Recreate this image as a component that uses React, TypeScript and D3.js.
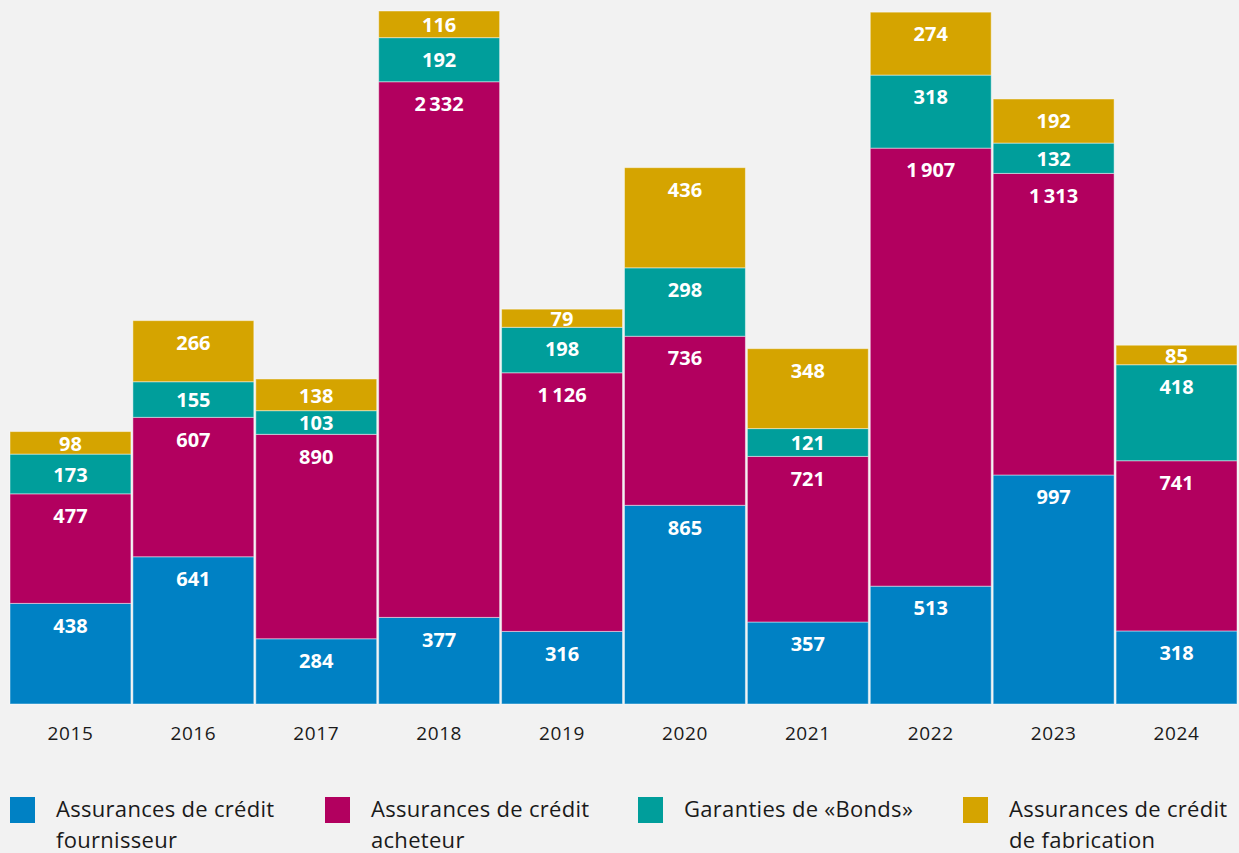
import * as d3 from 'd3';

const years = ['2015', '2016', '2017', '2018', '2019', '2020', '2021', '2022', '2023', '2024'];
const fournisseur = [438, 641, 284, 377, 316, 865, 357, 513, 997, 318];
const acheteur = [477, 607, 890, 2332, 1126, 736, 721, 1907, 1313, 741];
const bonds = [173, 155, 103, 192, 198, 298, 121, 318, 132, 418];
const fabrication = [98, 266, 138, 116, 79, 436, 348, 274, 192, 85];

const seriesNames = [
  ['Assurances de crédit', 'fournisseur'],
  ['Assurances de crédit', 'acheteur'],
  ['Garanties de «Bonds»'],
  ['Assurances de crédit', 'de fabrication'],
];
const colors = ['#0081c4', '#b2005f', '#009e9b', '#d5a400'];
const legendX = [10, 325, 638, 963];

const width = 1239;
const height = 853;
const font = '"Open Sans", "DejaVu Sans", sans-serif';

const fmt = (v: number) => (v >= 1000 ? `${Math.floor(v / 1000)}\u2009${String(v % 1000).padStart(3, '0')}` : String(v));

export default function App() {
  const rows = years.map((year, i) => ({
    year,
    s0: fournisseur[i],
    s1: acheteur[i],
    s2: bonds[i],
    s3: fabrication[i],
  }));
  const keys = ['s0', 's1', 's2', 's3'];
  const stacked = d3.stack<any>().keys(keys)(rows);
  const maxTotal = d3.max(rows, (r) => r.s0 + r.s1 + r.s2 + r.s3) || 0;

  const x = d3.scaleBand().domain(years).range([10, 1237]).paddingInner(0.016).paddingOuter(0);
  const y = d3.scaleLinear().domain([0, maxTotal]).range([704, 11]);

  return (
    <svg width={width} height={height} style={{ display: 'block', position: 'absolute', left: 0, top: 0, background: '#f2f2f2' }}>
      <rect x={0} y={0} width={width} height={height} fill="#f2f2f2" />
      {stacked.map((layer, li) => (
        <g key={li}>
          {layer.map((d, i) => {
            const top = y(d[1]);
            const bottom = y(d[0]);
            const mid = (top + bottom) / 2;
            const cy = Math.min(top + 22, mid + 0.5);
            return (
              <g key={i}>
                <rect
                  x={x(years[i])}
                  y={top}
                  width={x.bandwidth()}
                  height={bottom - top}
                  fill={colors[li]}
                  stroke="rgba(255,255,255,0.45)"
                  strokeWidth={1}
                />
                <text
                  x={(x(years[i]) || 0) + x.bandwidth() / 2}
                  y={cy}
                  dy="0.36em"
                  textAnchor="middle"
                  fill="#fff"
                  fontFamily={font}
                  fontWeight={700}
                  fontSize={20}
                >
                  {fmt(d[1] - d[0])}
                </text>
              </g>
            );
          })}
        </g>
      ))}
      {years.map((yr) => (
        <text
          key={yr}
          x={(x(yr) || 0) + x.bandwidth() / 2}
          y={740}
          textAnchor="middle"
          fill="#1a1a1a"
          fontFamily={font}
          fontSize={19}
          letterSpacing={0.6}
        >
          {yr}
        </text>
      ))}
      {seriesNames.map((lines, i) => (
        <g key={i} transform={`translate(${legendX[i]}, 797)`}>
          <rect x={0} y={0} width={25} height={26} fill={colors[i]} />
          {lines.map((line, j) => (
            <text key={j} x={46} y={20 + j * 31} fill="#1a1a1a" fontFamily={font} fontSize={22} letterSpacing={0.3}>
              {line}
            </text>
          ))}
        </g>
      ))}
    </svg>
  );
}
